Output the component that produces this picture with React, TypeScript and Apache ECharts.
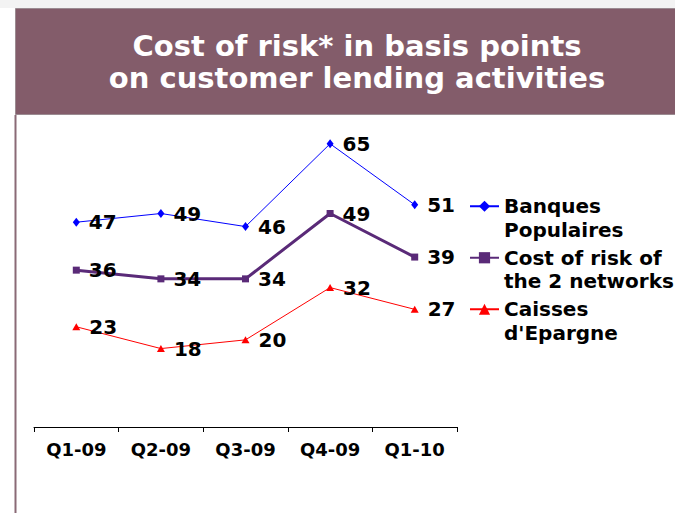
import React, { useEffect, useRef } from "react";
import * as echarts from "echarts";

const categories = ["Q1-09", "Q2-09", "Q3-09", "Q4-09", "Q1-10"];
const banquesPopulaires = [47, 49, 46, 65, 51];
const costOfRisk2Networks = [36, 34, 34, 49, 39];
const caissesEpargne = [23, 18, 20, 32, 27];

const seriesNames = [
  "Banques Populaires",
  "Cost of risk of the 2 networks",
  "Caisses d'Epargne",
];
const legendLabels: Record<string, string> = {
  "Banques Populaires": "Banques\nPopulaires",
  "Cost of risk of the 2 networks": "Cost of risk of\nthe 2 networks",
  "Caisses d'Epargne": "Caisses\nd'Epargne",
};

const FONT = "DejaVu Sans";

export default function App() {
  const ref = useRef<HTMLDivElement>(null);
  useEffect(() => {
    document.body.style.margin = "0";
    if (!ref.current) return;
    const chart = echarts.init(ref.current, undefined, { renderer: "svg" });
    const label = {
      show: true,
      position: "right" as const,
      distance: 9,
      color: "#000",
      fontFamily: FONT,
      fontWeight: "bold" as const,
      fontSize: 20,
    };
    chart.setOption({
      animation: false,
      title: {
        text: "Cost of risk* in basis points\non customer lending activities",
        left: 357,
        top: 30,
        padding: 0,
        textAlign: "center",
        textStyle: {
          color: "#ffffff",
          fontFamily: FONT,
          fontWeight: "bold",
          fontSize: 29,
          lineHeight: 32,
        },
        z: 10,
      },
      graphic: [
        {
          type: "rect",
          shape: { x: 0, y: 0, width: 675, height: 8 },
          style: { fill: "#f3f3f3" },
          z: -10,
        },
        {
          type: "rect",
          shape: { x: 15.5, y: 8.5, width: 670, height: 106 },
          style: { fill: "#835C6A", stroke: "#9b8b91", lineWidth: 1 },
          z: -5,
        },
        {
          type: "line",
          shape: { x1: 15.5, y1: 115, x2: 15.5, y2: 513 },
          style: { stroke: "#8a6a76", lineWidth: 2 },
          z: -5,
        },
      ],
      grid: { left: 34, right: 218, top: 122, bottom: 86 },
      xAxis: {
        type: "category",
        data: categories,
        boundaryGap: true,
        axisLine: { lineStyle: { color: "#000", width: 1 } },
        axisTick: { show: true, length: 5, lineStyle: { color: "#000" } },
        axisLabel: {
          color: "#000",
          fontFamily: FONT,
          fontWeight: "bold",
          fontSize: 18,
          margin: 13,
        },
      },
      yAxis: {
        type: "value",
        min: 0,
        max: 70,
        show: false,
        splitLine: { show: false },
      },
      legend: {
        orient: "vertical",
        left: 469,
        top: 171,
        padding: 0,
        itemWidth: 29,
        itemHeight: 14,
        itemGap: -19,
        data: seriesNames,
        formatter: (name: string) => "\n" + legendLabels[name],
        textStyle: {
          color: "#000",
          fontFamily: FONT,
          fontWeight: "bold",
          fontSize: 20,
          lineHeight: 23.5,
        },
      },
      series: [
        {
          name: seriesNames[0],
          type: "line",
          data: banquesPopulaires,
          symbol: "diamond",
          symbolSize: [7, 9],
          lineStyle: { color: "#0000FF", width: 1 },
          itemStyle: { color: "#0000FF" },
          label,
        },
        {
          name: seriesNames[1],
          type: "line",
          data: costOfRisk2Networks,
          symbol: "rect",
          symbolSize: 7,
          lineStyle: { color: "#5A2A78", width: 3 },
          itemStyle: { color: "#5A2A78" },
          label,
        },
        {
          name: seriesNames[2],
          type: "line",
          data: caissesEpargne,
          symbol: "triangle",
          symbolSize: [8, 7],
          lineStyle: { color: "#FF0000", width: 1 },
          itemStyle: { color: "#FF0000" },
          label,
        },
      ],
    });
    return () => chart.dispose();
  }, []);
  return <div ref={ref} style={{ width: 675, height: 513 }} />;
}
